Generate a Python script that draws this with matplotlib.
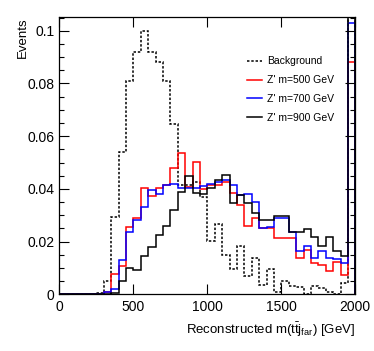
import numpy as np
import matplotlib
matplotlib.use("Agg")
import matplotlib.pyplot as plt
from matplotlib.ticker import MultipleLocator

plt.rcParams["font.family"] = ["Liberation Sans", "DejaVu Sans"]
plt.rcParams["mathtext.fontset"] = "custom"
plt.rcParams["mathtext.rm"] = "Liberation Sans"
plt.rcParams["mathtext.it"] = "Liberation Sans:italic"

# 50 GeV bins from 0 to 2000 GeV, last bin holds the overflow
bin_edges = list(range(0, 2001, 50))

background = [0, 0, 0, 0, 0.0002, 0.0005, 0.005, 0.0295, 0.054, 0.081,
              0.092, 0.100, 0.092, 0.088, 0.081, 0.0646, 0.0415, 0.0415, 0.0425, 0.037,
              0.0203, 0.0267, 0.0149, 0.0096, 0.0183, 0.0069, 0.0137, 0.0035, 0.0095, 0.001,
              0.0052, 0.003, 0.0027, 0.0, 0.003, 0.0024, 0.001, 0.0, 0.0044, 0.12]

zp500 = [0, 0, 0, 0, 0, 0.0003, 0.001, 0.0077, 0.0107, 0.0257,
         0.029, 0.0402, 0.0373, 0.0402, 0.0416, 0.0478, 0.0537, 0.0406, 0.0503, 0.0398,
         0.0415, 0.0415, 0.0428, 0.0385, 0.034, 0.026, 0.029, 0.025, 0.025, 0.0214,
         0.0214, 0.0214, 0.0137, 0.0168, 0.0118, 0.011, 0.009, 0.0124, 0.0075, 0.088]

zp700 = [0, 0, 0, 0, 0, 0.0003, 0.001, 0.002, 0.013, 0.0235,
         0.0282, 0.033, 0.0395, 0.038, 0.0416, 0.0418, 0.0402, 0.0402, 0.0405, 0.041,
         0.0419, 0.0425, 0.0434, 0.0416, 0.0378, 0.038, 0.035, 0.025, 0.0255, 0.0288,
         0.0288, 0.0235, 0.0165, 0.0184, 0.0137, 0.0165, 0.0137, 0.0135, 0.0117, 0.103]

zp900 = [0, 0, 0, 0, 0, 0, 0, 0.0006, 0.0049, 0.0099,
         0.0091, 0.0145, 0.018, 0.0225, 0.026, 0.032, 0.039, 0.045, 0.0386, 0.038,
         0.0402, 0.0434, 0.0452, 0.0345, 0.0377, 0.0345, 0.0307, 0.0282, 0.0282, 0.0296,
         0.0296, 0.0238, 0.0238, 0.0249, 0.0218, 0.0183, 0.0216, 0.0164, 0.0145, 0.12]

labels = ["Background", "Z' m=500 GeV", "Z' m=700 GeV", "Z' m=900 GeV"]

fig = plt.figure(figsize=(3.74, 3.51), dpi=100)
ax = fig.add_axes([0.1586, 0.1615, 0.7914, 0.7892])

lw = 1.1
ax.stairs(background, bin_edges, color="black", linewidth=lw,
          linestyle=(0, (1.6, 1.2)), baseline=0, label=labels[0])
ax.stairs(zp500, bin_edges, color="#ff0000", linewidth=lw, baseline=0, label=labels[1])
ax.stairs(zp700, bin_edges, color="#0000ff", linewidth=lw, baseline=0, label=labels[2])
ax.stairs(zp900, bin_edges, color="black", linewidth=lw, baseline=0, label=labels[3])

ax.set_xlim(0, 2000)
ax.set_ylim(0, 0.1051)

ax.xaxis.set_major_locator(MultipleLocator(500))
ax.yaxis.set_minor_locator(MultipleLocator(0.005))
ax.set_yticks([0, 0.02, 0.04, 0.06, 0.08, 0.1])
ax.set_yticklabels(["0", "0.02", "0.04", "0.06", "0.08", "0.1"])

ax.tick_params(axis="both", which="both", direction="in", labelsize=10)
ax.tick_params(axis="x", which="major", top=True, length=7, width=0.8, pad=4)
ax.tick_params(axis="y", which="major", right=True, length=7, width=0.8)
ax.tick_params(axis="y", which="minor", right=True, length=3.5, width=0.8)
for s in ax.spines.values():
    s.set_linewidth(0.9)

ax.set_ylabel("Events", fontsize=9.5, loc="top", labelpad=-1)
ax.set_xlabel(r"Reconstructed m(t$\bar{\rm t}$j$_{\rm far}$) [GeV]", fontsize=9.5,
              loc="right", labelpad=4.5)

leg = ax.legend(loc="upper left", bbox_to_anchor=(0.602, 0.893), frameon=False,
                fontsize=7.5, handlelength=1.5, handletextpad=0.4, labelspacing=0.85)

fig.savefig("out.png", dpi=100)
